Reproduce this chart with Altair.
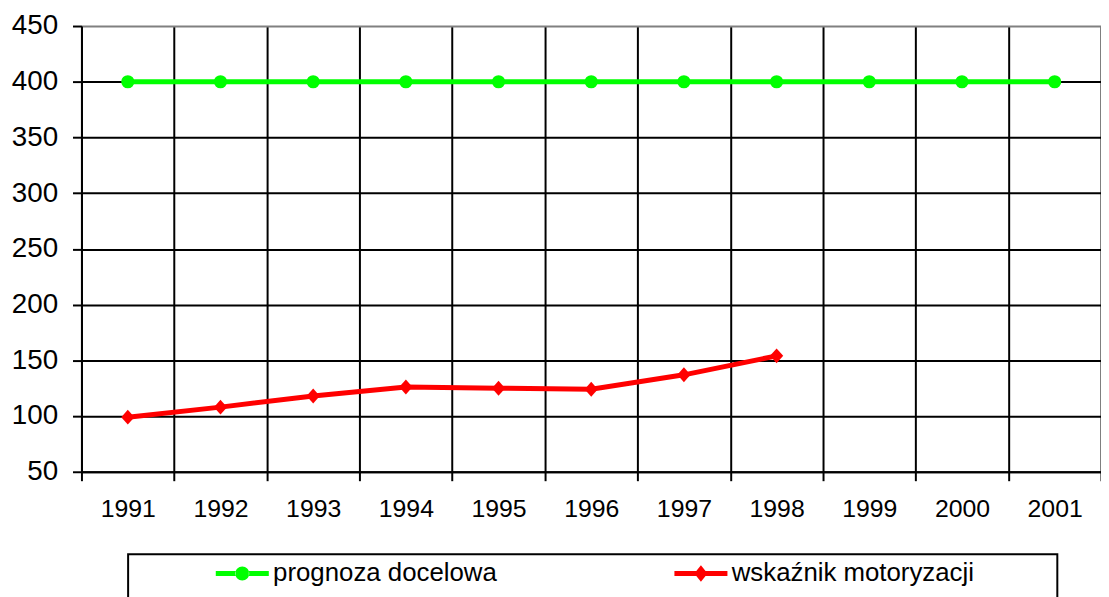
import altair as alt
import pandas as pd

# ---- data ----
years = ["1991", "1992", "1993", "1994", "1995", "1996", "1997", "1998", "1999", "2000", "2001"]
prognoza_docelowa = [400, 400, 400, 400, 400, 400, 400, 400, 400, 400, 400]
wskaznik_years = ["1991", "1992", "1993", "1994", "1995", "1996", "1997", "1998"]
wskaznik_motoryzacji = [99, 108, 118, 126, 125, 124, 137, 154]
series_names = ["prognoza docelowa", "wskaźnik motoryzacji"]
y_ticks = [50, 100, 150, 200, 250, 300, 350, 400, 450]

# ---- styles ----
FONT = "Liberation Sans"
GREEN = "#00ff00"
RED = "#ff0000"

green_df = pd.DataFrame({"rok": years, "wartosc": prognoza_docelowa, "seria": series_names[0]})
red_df = pd.DataFrame({"rok": wskaznik_years, "wartosc": wskaznik_motoryzacji, "seria": series_names[1]})
all_df = pd.concat([green_df, red_df], ignore_index=True)

# legend symbols (unit = 13 px): thick line segment with the marker in the middle;
# tiny invisible sub-paths enlarge the legend frame like Excel's
sym_green = ("M-2.054 -0.192L-0.5025 -0.192L-0.5025 0.192L-2.054 0.192Z "
             "M0.5025 -0.192L2.054 -0.192L2.054 0.192L0.5025 0.192Z "
             "M-0.538 0A0.538 0.538 0 1 0 0.538 0A0.538 0.538 0 1 0 -0.538 0Z "
             "M0 3L0 3.002L0.002 3Z")
sym_red = ("M-2.054 -0.192L-0.36 -0.192L-0.36 0.192L-2.054 0.192Z "
           "M0.36 -0.192L2.054 -0.192L2.054 0.192L0.36 0.192Z "
           "M-0.515 0L0 -0.64L0.515 0L0 0.64Z "
           "M27.08 3L27.08 3.002L27.078 3Z")
diamond = "M-1 0L0 -1.13L1 0L0 1.13Z"

x_enc = alt.X(
    "rok:N",
    bandPosition=0.5,
    scale=alt.Scale(type="band", domain=years, paddingInner=0, paddingOuter=0),
    axis=alt.Axis(
        title=None, tickBand="extent", grid=True, gridColor="black", gridWidth=2,
        domainColor="black", domainWidth=2, tickColor="black", tickWidth=2, tickSize=9,
        labelFont=FONT, labelFontSize=25, labelColor="black", labelPadding=16, labelAngle=0,
    ),
)
y_enc = alt.Y(
    "wartosc:Q",
    scale=alt.Scale(domain=[50, 450], nice=False, zero=False),
    axis=alt.Axis(
        title=None, values=y_ticks, grid=True,
        gridColor={"condition": {"test": "datum.value === 450", "value": "#808080"}, "value": "black"},
        gridWidth=2, domainColor="black", domainWidth=2, tickColor="black", tickWidth=2, tickSize=9,
        labelFont=FONT, labelFontSize=28, labelColor="black", labelPadding=15,
    ),
)

green_line = alt.Chart(green_df).mark_line(color=GREEN, strokeWidth=5).encode(x=x_enc, y=y_enc)
green_pts = alt.Chart(green_df).mark_point(
    filled=True, color=GREEN, size=177, opacity=1, shape="circle"
).encode(x=x_enc, y=y_enc)
red_line = alt.Chart(red_df).mark_line(color=RED, strokeWidth=5).encode(x=x_enc, y=y_enc)
red_pts = alt.Chart(red_df).mark_point(
    filled=True, color=RED, size=177, opacity=1, shape=diamond
).encode(x=x_enc, y=y_enc)

leg = alt.Legend(
    title=None, orient="none", legendX=47, legendY=532, direction="horizontal", columns=2,
    columnPadding=96, padding=6, strokeColor="black", fillColor="white",
    symbolSize=676, symbolStrokeWidth=0, symbolOpacity=1, symbolOffset=96,
    labelFont=FONT, labelFontSize=26, labelColor="black", labelLimit=600, labelOffset=18,
)
legend_layer = alt.Chart(all_df).mark_point(filled=True, opacity=0, size=177).encode(
    x=x_enc,
    y=y_enc,
    color=alt.Color("seria:N", scale=alt.Scale(domain=series_names, range=[GREEN, RED]), legend=leg),
    shape=alt.Shape("seria:N", scale=alt.Scale(domain=series_names, range=[sym_green, sym_red]), legend=leg),
)

chart = (
    alt.layer(green_line, green_pts, red_line, red_pts, legend_layer)
    .properties(
        width=1027,
        height=449,
        autosize=alt.AutoSizeParams(type="none"),
        padding={"left": 74, "top": 16, "right": 0, "bottom": 124},
        background="white",
    )
    .configure(font=FONT)
    .configure_view(stroke="transparent")
    .configure_legend(strokeWidth=2)
)

chart.save("out.html", embed_options={"renderer": "svg", "actions": False})
